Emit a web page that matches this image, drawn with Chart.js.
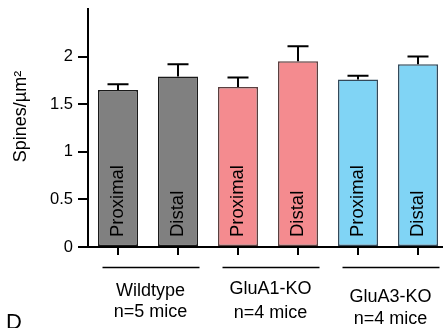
<!DOCTYPE html>
<html>
<head>
<meta charset="utf-8">
<style>
html,body{margin:0;padding:0;overflow:hidden;background:#fff;width:443px;height:328px}
#wrap{width:448px;height:328px}
</style>
</head>
<body>
<div id="wrap"><canvas id="c" width="448" height="328"></canvas></div>
<script src="https://cdn.jsdelivr.net/npm/chart.js@4"></script>
<script>
// ---- data ----
const categories = ['Proximal', 'Distal', 'Proximal', 'Distal', 'Proximal', 'Distal'];
const means = [1.65, 1.79, 1.68, 1.95, 1.76, 1.92];
const sem = [0.06, 0.13, 0.10, 0.16, 0.04, 0.08];
const groups = ['Wildtype', 'GluA1-KO', 'GluA3-KO'];
const groupCounts = ['n=5 mice', 'n=4 mice', 'n=4 mice'];
const yTicks = [0, 0.5, 1, 1.5, 2];
const yTickLabels = ['0', '0.5', '1', '1.5', '2'];
const yTitle = 'Spines/\u00B5m\u00B2';
const panelLetter = 'D';

// ---- styles ----
const FONT = '"Liberation Sans", Arial, Helvetica, sans-serif';
const fills = ['#808080', '#808080', '#f48b8f', '#f48b8f', '#80d4f5', '#80d4f5'];
const borders = ['#1a1a1a', '#1a1a1a', '#5a3f3f', '#5a3f3f', '#33495a', '#33495a'];
const groupTextY = [[291, 312], [289, 313], [297, 319]];

const errorBars = {
  id: 'errorBars',
  afterDatasetsDraw(chart) {
    const ctx = chart.ctx, y = chart.scales.y;
    const meta = chart.getDatasetMeta(0);
    ctx.save();
    ctx.strokeStyle = '#000';
    ctx.lineWidth = 2;
    meta.data.forEach((bar, i) => {
      const top = y.getPixelForValue(means[i]);
      const et = y.getPixelForValue(means[i] + sem[i]);
      ctx.beginPath();
      ctx.moveTo(bar.x, top);
      ctx.lineTo(bar.x, et);
      ctx.moveTo(bar.x - 10.5, et);
      ctx.lineTo(bar.x + 10.5, et);
      ctx.stroke();
    });
    ctx.restore();
  }
};

const annotations = {
  id: 'annotations',
  afterDraw(chart) {
    const ctx = chart.ctx, x = chart.scales.x, y = chart.scales.y;
    const meta = chart.getDatasetMeta(0);
    ctx.save();
    ctx.fillStyle = '#000';
    // labels inside bars
    ctx.font = '18.5px ' + FONT;
    meta.data.forEach((bar, i) => {
      ctx.save();
      ctx.translate(bar.x, y.getPixelForValue(0) - 10);
      ctx.rotate(-Math.PI / 2);
      ctx.textAlign = 'left';
      ctx.textBaseline = 'middle';
      ctx.fillText(categories[i], 0, 0);
      ctx.restore();
    });
    // y title
    ctx.save();
    ctx.font = '18px ' + FONT;
    ctx.translate(25.5, 116.5);
    ctx.rotate(-Math.PI / 2);
    ctx.textAlign = 'center';
    ctx.textBaseline = 'alphabetic';
    ctx.fillText(yTitle, 0, 0);
    ctx.restore();
    // group lines and labels
    ctx.strokeStyle = '#000';
    ctx.lineWidth = 1.5;
    ctx.font = '18px ' + FONT;
    ctx.textAlign = 'center';
    ctx.textBaseline = 'middle';
    groups.forEach((g, gi) => {
      const x1 = x.getPixelForValue(gi * 2), x2 = x.getPixelForValue(gi * 2 + 1);
      ctx.beginPath();
      ctx.moveTo(x1 - 15.5, 267.5);
      ctx.lineTo(x2 + 21.5, 267.5);
      ctx.stroke();
      const cx = (x1 + x2) / 2 + 2.5;
      ctx.fillText(g, cx, groupTextY[gi][0]);
      ctx.fillText(groupCounts[gi], cx, groupTextY[gi][1]);
    });
    // panel letter (next panel, cut off)
    ctx.font = '22px ' + FONT;
    ctx.textAlign = 'left';
    ctx.textBaseline = 'alphabetic';
    ctx.fillText(panelLetter, 6, 329);
    ctx.restore();
  }
};

new Chart(document.getElementById('c'), {
  type: 'bar',
  data: {
    labels: categories,
    datasets: [{
      data: means,
      backgroundColor: fills,
      borderColor: borders,
      borderWidth: 1.5,
      borderSkipped: false,
      barPercentage: 0.667,
      categoryPercentage: 1
    }]
  },
  options: {
    responsive: false,
    devicePixelRatio: 1,
    animation: false,
    layout: { padding: { top: 9, left: 0, right: 0, bottom: 0 } },
    plugins: { legend: { display: false }, tooltip: { enabled: false } },
    scales: {
      x: {
        type: 'category',
        offset: true,
        grid: { offset: false, drawOnChartArea: false, drawTicks: true, tickLength: 8, color: '#000', lineWidth: 2 },
        border: { display: true, color: '#000', width: 2 },
        ticks: { display: false },
        afterFit: s => { s.height = 81; s.paddingLeft = 0; s.paddingRight = 0; }
      },
      y: {
        min: 0,
        max: 2.5,
        afterBuildTicks: s => { s.ticks = yTicks.map(v => ({ value: v })); },
        ticks: {
          color: '#000', font: { size: 16.5, family: FONT }, padding: 5,
          callback: (v, i) => yTickLabels[i]
        },
        grid: { drawOnChartArea: false, drawTicks: true, tickLength: 10, color: '#000', lineWidth: 2 },
        border: { display: true, color: '#000', width: 2 },
        afterFit: s => { s.width = 88; s.paddingTop = 0; s.paddingBottom = 0; }
      }
    }
  },
  plugins: [errorBars, annotations]
});
</script>
</body>
</html>
